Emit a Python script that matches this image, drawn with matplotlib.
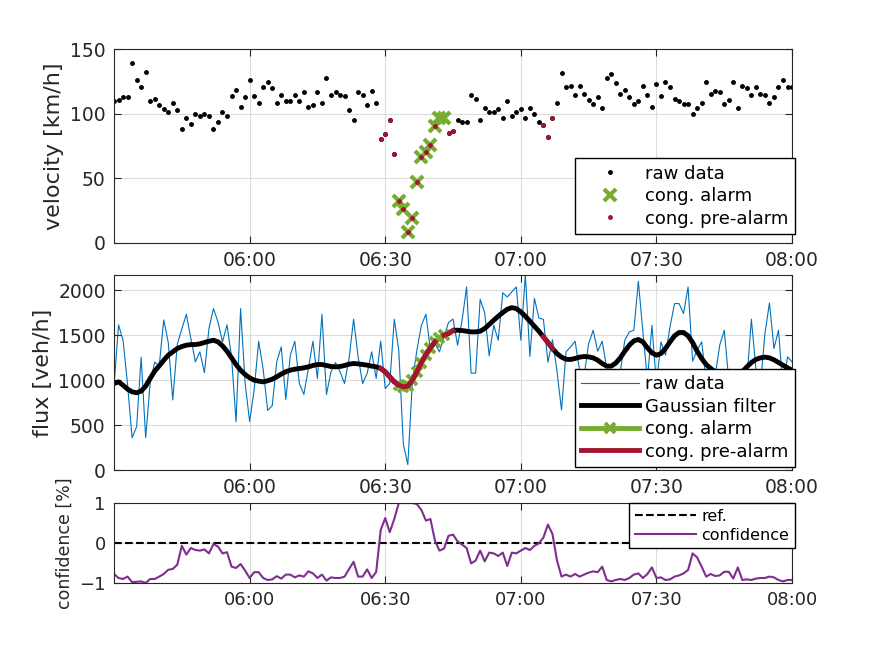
import numpy as np
import pandas as pd
import matplotlib
matplotlib.use('Agg')
import matplotlib.pyplot as plt

# one sample per minute, 05:30 .. 08:00
t_start = '2020-01-01 05:30'
n_samples = 151
tick_labels = ['06:00', '06:30', '07:00', '07:30', '08:00']

velocity = [109.5, 110.5, 112.6, 112.6, 139.5, 126.4, 120.5, 132.3, 109.5, 111.5,
            106.4, 103.3, 101.5, 108.5, 102.6, 88.5, 96.4, 92.3, 99.5, 98.5,
            99.5, 98.5, 88.5, 93.3, 101.5, 98.5, 113.6, 118.5, 105.4, 112.6,
            126.4, 113.6, 108.5, 120.5, 124.4, 119.5, 108.5, 114.4, 109.5, 109.5,
            114.4, 109.5, 116.4, 105.4, 106.4, 116.4, 108.5, 127.4, 114.4, 116.4,
            114.4, 113.6, 102.6, 95.4, 116.4, 114.4, 106.4, 117.4, 108.5, 80.5,
            84.4, 95.4, 68.5, 32.6, 26.4, 8.7, 19.5, 47.4, 66.4, 70.5,
            75.4, 90.5, 96.4, 96.4, 85.4, 86.4, 95.4, 93.3, 93.3, 114.4,
            111.5, 95.4, 104.4, 101.5, 101.5, 103.3, 96.4, 109.5, 98.5, 101.5,
            103.3, 96.4, 104.4, 99.5, 93.3, 91.3, 82.3, 96.4, 108.5, 131.5,
            120.5, 121.5, 114.4, 121.5, 115.4, 110.5, 107.4, 112.6, 104.4, 127.4,
            130.5, 123.6, 115.4, 118.5, 112.6, 107.4, 109.5, 121.5, 114.4, 105.4,
            122.6, 113.6, 124.4, 120.5, 111.5, 109.5, 107.4, 107.4, 99.5, 104.4,
            108.5, 124.4, 115.4, 117.4, 116.4, 107.4, 110.5, 124.4, 104.4, 121.5,
            119.5, 114.4, 120.5, 115.4, 114.4, 108.5, 112.6, 120.5, 126.4, 120.5,
            120.5]

flux_raw = [930, 1615, 1444, 950, 360, 481, 1255, 360, 970, 1200,
            1160, 1670, 1420, 780, 1400, 1570, 1733, 1463, 1204, 1315,
            1083, 1574, 1796, 1648, 1426, 1615, 1259, 537, 1796, 970,
            540, 889, 1433, 1120, 663, 716, 1204, 1370, 785, 1278,
            1433, 963, 841, 1130, 1433, 1019, 1733, 841, 1093, 1196,
            1093, 963, 1241, 1678, 1259, 963, 1074, 1315, 1019, 1433,
            907, 963, 1678, 1330, 290, 60, 980, 1333, 1611, 1733,
            1333, 1407, 1315, 1481, 1641, 1680, 1390, 1665, 2037, 1078,
            1078, 1900, 1750, 1270, 1611, 1444, 1972, 1926, 1981, 2037,
            1444, 2170, 1263, 1910, 1692, 1675, 1200, 1450, 1100, 667,
            1315, 1370, 1433, 1111, 1050, 1407, 1555, 1322, 1433, 1130,
            900, 1000, 1093, 1444, 1537, 1555, 2100, 1537, 1000, 1611,
            950, 1426, 1278, 1593, 1852, 1852, 1741, 2037, 1211, 1333,
            1426, 1000, 900, 1050, 1389, 1555, 1000, 850, 950, 1130,
            1000, 1678, 1130, 950, 1518, 1859, 1352, 1555, 900, 1259,
            1204]

flux_gauss = [963, 981, 944, 900, 870, 859, 878, 933, 1019, 1100,
              1159, 1222, 1278, 1315, 1352, 1374, 1389, 1396, 1396, 1404,
              1419, 1433, 1444, 1426, 1382, 1322, 1248, 1174, 1111, 1063,
              1026, 1000, 989, 981, 993, 1011, 1037, 1068, 1093, 1111,
              1122, 1130, 1137, 1148, 1163, 1174, 1174, 1163, 1152, 1148,
              1152, 1163, 1178, 1185, 1181, 1174, 1167, 1156, 1148, 1130,
              1093, 1037, 981, 944, 926, 933, 1000, 1093, 1196, 1285,
              1359, 1426, 1470, 1500, 1519, 1552, 1556, 1552, 1544, 1537,
              1537, 1544, 1574, 1619, 1667, 1711, 1752, 1789, 1807, 1796,
              1759, 1711, 1656, 1600, 1544, 1481, 1419, 1352, 1296, 1256,
              1233, 1230, 1241, 1256, 1263, 1259, 1248, 1222, 1185, 1156,
              1156, 1190, 1248, 1322, 1389, 1437, 1452, 1426, 1359, 1304,
              1278, 1296, 1352, 1426, 1493, 1530, 1530, 1493, 1419, 1322,
              1241, 1174, 1130, 1093, 1074, 1048, 1026, 1019, 1037, 1093,
              1148, 1196, 1230, 1248, 1256, 1248, 1226, 1196, 1167, 1137,
              1111]

confidence = [-0.775, -0.875, -0.9, -0.84, -0.98, -0.97, -0.96, -1.0, -0.9, -0.9,
              -0.84, -0.775, -0.67, -0.65, -0.54, -0.07, -0.29, -0.125, -0.175, -0.19,
              -0.16, -0.26, -0.025, -0.09, -0.26, -0.23, -0.59, -0.625, -0.525, -0.69,
              -0.875, -0.73, -0.73, -0.875, -0.925, -0.91, -0.83, -0.89, -0.79, -0.79,
              -0.86, -0.81, -0.84, -0.71, -0.76, -0.875, -0.79, -0.94, -0.86, -0.875,
              -0.875, -0.84, -0.65, -0.47, -0.84, -0.84, -0.66, -0.875, -0.725, 0.325,
              0.625, 0.27, 0.6, 1.0, 1.0, 1.0, 1.0, 0.975, 0.825, 0.56,
              0.6, 0.06, -0.19, -0.14, 0.18, 0.21, 0.04, -0.04, -0.125, -0.51,
              -0.44, -0.19, -0.46, -0.24, -0.26, -0.325, -0.24, -0.575, -0.24, -0.26,
              -0.19, -0.125, -0.175, -0.07, -0.01, 0.14, 0.46, 0.225, -0.44, -0.84,
              -0.79, -0.84, -0.775, -0.84, -0.79, -0.74, -0.71, -0.73, -0.59, -0.925,
              -0.96, -0.925, -0.9, -0.925, -0.875, -0.79, -0.76, -0.875, -0.775, -0.61,
              -0.875, -0.86, -0.925, -0.91, -0.84, -0.81, -0.76, -0.675, -0.26, -0.36,
              -0.59, -0.84, -0.775, -0.825, -0.81, -0.72, -0.72, -0.89, -0.61, -0.925,
              -0.91, -0.925, -0.89, -0.875, -0.875, -0.84, -0.86, -0.925, -0.96, -0.925,
              -0.925]

# minute indices (from 05:30) flagged by the detector
alarm_idx = list(range(63, 74))
prealarm_idx = list(range(59, 72)) + [74, 75] + [95, 96, 97]
# segments of the filtered curve drawn as pre-alarm
prealarm_segments = [(59, 72), (73, 76), (95, 98)]

C_GREEN = '#77AC30'
C_RED = '#A2142F'
C_BLUE = '#0072BD'
C_PURPLE = '#7E2F8E'
C_AX = '#262626'

times = pd.date_range(t_start, periods=n_samples, freq='min')
ticks = [pd.Timestamp(t_start[:11] + s) for s in tick_labels]
vel = np.array(velocity)
fr = np.array(flux_raw)
fg = np.array(flux_gauss)
conf = np.array(confidence)

fig = plt.figure(figsize=(8.75, 6.56), dpi=100)
ax1 = fig.add_axes([0.1303, 0.6296, 0.7749, 0.2957])
ax2 = fig.add_axes([0.1303, 0.2835, 0.7749, 0.2973])
ax3 = fig.add_axes([0.1303, 0.1113, 0.7749, 0.1219])


def style(ax, fs):
    ax.set_xlim(times[0], times[-1])
    ax.set_xticks(ticks)
    ax.set_xticklabels(tick_labels)
    ax.grid(True, color='#dcdcdc', linewidth=0.8)
    ax.set_axisbelow(True)
    ax.tick_params(direction='in', top=True, right=True, length=5,
                   width=0.8, colors=C_AX, labelsize=fs, pad=6)
    for s in ax.spines.values():
        s.set_color(C_AX)
        s.set_linewidth(0.8)


leg_kw = dict(fancybox=False, edgecolor='k', framealpha=1, borderaxespad=0,
              borderpad=0.35, labelspacing=0.25, handletextpad=0.35)

# velocity
ax1.plot(times, vel, '.', color='k', ms=5, label='raw data')
ax1.plot(times[alarm_idx], vel[alarm_idx], 'x', color=C_GREEN, ms=8, mew=3,
         label='cong. alarm')
ax1.plot(times[prealarm_idx], vel[prealarm_idx], '.', color=C_RED, ms=5,
         label='cong. pre-alarm')
ax1.set_ylim(0, 150)
ax1.set_yticks([0, 50, 100, 150])
ax1.set_ylabel('velocity [km/h]', fontsize=16, color=C_AX)
style(ax1, 13.5)
ax1.legend(loc='lower right', bbox_to_anchor=(1.004, 0.046), fontsize=13,
           handlelength=3.2, **leg_kw)

# flux
ax2.plot(times, fr, '-', color=C_BLUE, lw=0.8, label='raw data')
ax2.plot(times, fg, '-', color='k', lw=3.5, label='Gaussian filter')
ax2.plot(times[alarm_idx], fg[alarm_idx], '-x', color=C_GREEN, lw=3.5, ms=7,
         mew=2.8, label='cong. alarm')
for k, (a, b) in enumerate(prealarm_segments):
    ax2.plot(times[a:b], fg[a:b], '-', color=C_RED, lw=3.5,
             label='cong. pre-alarm' if k == 0 else None)
ax2.set_ylim(0, 2170)
ax2.set_yticks([0, 500, 1000, 1500, 2000])
ax2.set_ylabel('flux [veh/h]', fontsize=16, color=C_AX)
style(ax2, 13.5)
ax2.legend(loc='lower right', bbox_to_anchor=(1.004, 0.015), fontsize=13,
           handlelength=3.2, **leg_kw)

# confidence
ax3.plot(times, np.zeros(n_samples), '--', color='k', lw=1.5, label='ref.')
ax3.plot(times, conf, '-', color=C_PURPLE, lw=1.5, label='confidence')
ax3.set_ylim(-1, 1)
ax3.set_yticks([-1, 0, 1])
ax3.set_ylabel('confidence [%]', fontsize=12.5, color=C_AX)
style(ax3, 13)
ax3.legend(loc='upper right', bbox_to_anchor=(1.004, 1.0), fontsize=11.5,
           handlelength=3.8, **leg_kw)

fig.savefig('out.png', dpi=100)
